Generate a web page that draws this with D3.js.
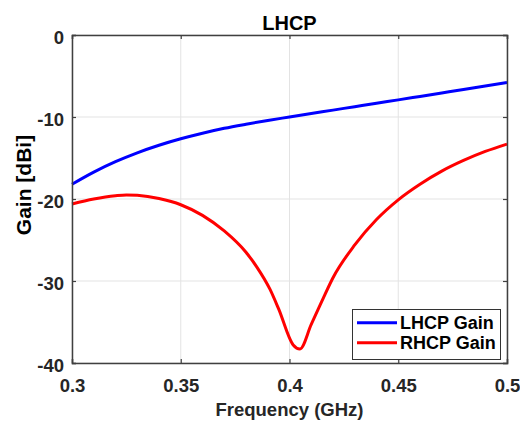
<!DOCTYPE html>
<html>
<head>
<meta charset="utf-8">
<script src="https://cdn.jsdelivr.net/npm/d3@7"></script>
<style>
  html, body { margin: 0; padding: 0; background: #fff; }
  svg { display: block; font-family: "Liberation Sans", Arial, Helvetica, sans-serif; }
</style>
</head>
<body>
<svg id="chart" width="520" height="422"></svg>
<script>
const titleText = "LHCP";
const xLabel = "Frequency (GHz)";
const yLabel = "Gain [dBi]";
const xTicks = [0.3, 0.35, 0.4, 0.45, 0.5];
const xTickLabels = ["0.3", "0.35", "0.4", "0.45", "0.5"];
const yTicks = [0, -10, -20, -30, -40];
const yTickLabels = ["0", "-10", "-20", "-30", "-40"];
const seriesNames = ["LHCP Gain", "RHCP Gain"];
const seriesColors = ["#0000ff", "#ff0000"];

const lhcpFreq = [0.30, 0.31, 0.32, 0.33, 0.34, 0.35, 0.36, 0.37, 0.38, 0.39, 0.40, 0.41, 0.42, 0.43, 0.44, 0.45, 0.46, 0.47, 0.48, 0.49, 0.50];
const lhcpGain = [-18.2, -16.72, -15.45, -14.37, -13.45, -12.66, -11.98, -11.38, -10.88, -10.42, -10.0, -9.58, -9.16, -8.74, -8.32, -7.91, -7.49, -7.07, -6.65, -6.22, -5.8];

const rhcpFreq = [0.30, 0.31, 0.32, 0.325, 0.33, 0.34, 0.35, 0.36, 0.37, 0.38, 0.385, 0.391, 0.395, 0.4017, 0.4048, 0.41, 0.415, 0.42, 0.43, 0.44, 0.45, 0.46, 0.47, 0.48, 0.49, 0.50];
const rhcpGain = [-20.6, -20.0, -19.6, -19.5, -19.55, -19.95, -20.7, -22.0, -23.9, -26.5, -28.3, -31.0, -33.4, -37.8, -38.3, -35.3, -32.4, -29.6, -25.6, -22.5, -20.1, -18.2, -16.6, -15.3, -14.2, -13.3];

const svg = d3.select("#chart");
const m = { left: 72, right: 507, top: 35, bottom: 363 };
const x = d3.scaleLinear().domain([0.3, 0.5]).range([m.left, m.right]);
const y = d3.scaleLinear().domain([-40, 0]).range([m.bottom, m.top]);
const axisColor = "#404040";
const textColor = "#262626";

// grid
const grid = svg.append("g");
grid.selectAll(".gx").data(xTicks).enter().append("line")
  .attr("x1", d => x(d)).attr("x2", d => x(d))
  .attr("y1", m.top).attr("y2", m.bottom)
  .attr("stroke", "#e3e3e3").attr("stroke-width", 1);
grid.selectAll(".gy").data(yTicks).enter().append("line")
  .attr("x1", m.left).attr("x2", m.right)
  .attr("y1", d => y(d)).attr("y2", d => y(d))
  .attr("stroke", "#e3e3e3").attr("stroke-width", 1);

// lines
const series = [
  { name: seriesNames[0], color: seriesColors[0], pts: lhcpFreq.map((f, i) => [f, lhcpGain[i]]) },
  { name: seriesNames[1], color: seriesColors[1], pts: rhcpFreq.map((f, i) => [f, rhcpGain[i]]) }
];
const line = d3.line().x(d => x(d[0])).y(d => y(d[1])).curve(d3.curveMonotoneX);
svg.append("g").selectAll("path").data(series).enter().append("path")
  .attr("d", d => line(d.pts))
  .attr("fill", "none").attr("stroke", d => d.color)
  .attr("stroke-width", 3).attr("stroke-linejoin", "round");

// axes (box with ticks all sides)
const tickLen = 4;
const axisBottom = d3.axisBottom(x).tickValues(xTicks).tickSize(-tickLen).tickFormat((d, i) => xTickLabels[i]);
const axisTop = d3.axisTop(x).tickValues(xTicks).tickSize(-tickLen).tickFormat("");
const axisLeft = d3.axisLeft(y).tickValues(yTicks).tickSize(-tickLen).tickFormat((d, i) => yTickLabels[i]);
const axisRight = d3.axisRight(y).tickValues(yTicks).tickSize(-tickLen).tickFormat("");

function styleAxis(g) {
  g.select(".domain").attr("stroke", axisColor).attr("stroke-width", 1.5);
  g.selectAll(".tick line").attr("stroke", axisColor).attr("stroke-width", 1.2);
  g.selectAll("text").attr("fill", textColor).attr("font-size", "18.5px")
    .attr("font-weight", "bold").attr("font-family", "'Liberation Sans', Arial, sans-serif");
}
const gb = svg.append("g").attr("transform", `translate(0,${m.bottom})`).call(axisBottom).call(styleAxis);
gb.selectAll(".tick text").attr("y", 16).attr("dy", "0.71em");
const gt = svg.append("g").attr("transform", `translate(0,${m.top})`).call(axisTop).call(styleAxis);
const gl = svg.append("g").attr("transform", `translate(${m.left},0)`).call(axisLeft).call(styleAxis);
gl.selectAll(".tick text").attr("x", -8).attr("dy", "0.45em");
const gr = svg.append("g").attr("transform", `translate(${m.right},0)`).call(axisRight).call(styleAxis);
svg.selectAll(".domain").attr("fill", "none");

// title and labels
svg.append("text").attr("x", (m.left + m.right) / 2).attr("y", 30)
  .attr("text-anchor", "middle").attr("font-size", "20px").attr("font-weight", "bold")
  .attr("fill", "#000").text(titleText);
svg.append("text").attr("x", (m.left + m.right) / 2).attr("y", 416)
  .attr("text-anchor", "middle").attr("font-size", "18.5px").attr("font-weight", "bold")
  .attr("fill", textColor).text(xLabel);
svg.append("text").attr("transform", `translate(31,185) rotate(-90)`)
  .attr("text-anchor", "middle").attr("font-size", "21px").attr("font-weight", "bold")
  .attr("fill", "#000").text(yLabel);

// legend
const lg = svg.append("g");
lg.append("rect").attr("x", 352.5).attr("y", 309.5).attr("width", 148).attr("height", 50)
  .attr("fill", "#fff").attr("stroke", "#333").attr("stroke-width", 1);
series.forEach((s, i) => {
  const ly = 322.7 + i * 20;
  lg.append("line").attr("x1", 357).attr("x2", 397).attr("y1", ly).attr("y2", ly)
    .attr("stroke", s.color).attr("stroke-width", 3);
  lg.append("text").attr("x", 400).attr("y", ly + 6.3)
    .attr("font-size", "18px").attr("font-weight", "bold").attr("fill", "#000").text(s.name);
});
</script>
</body>
</html>
